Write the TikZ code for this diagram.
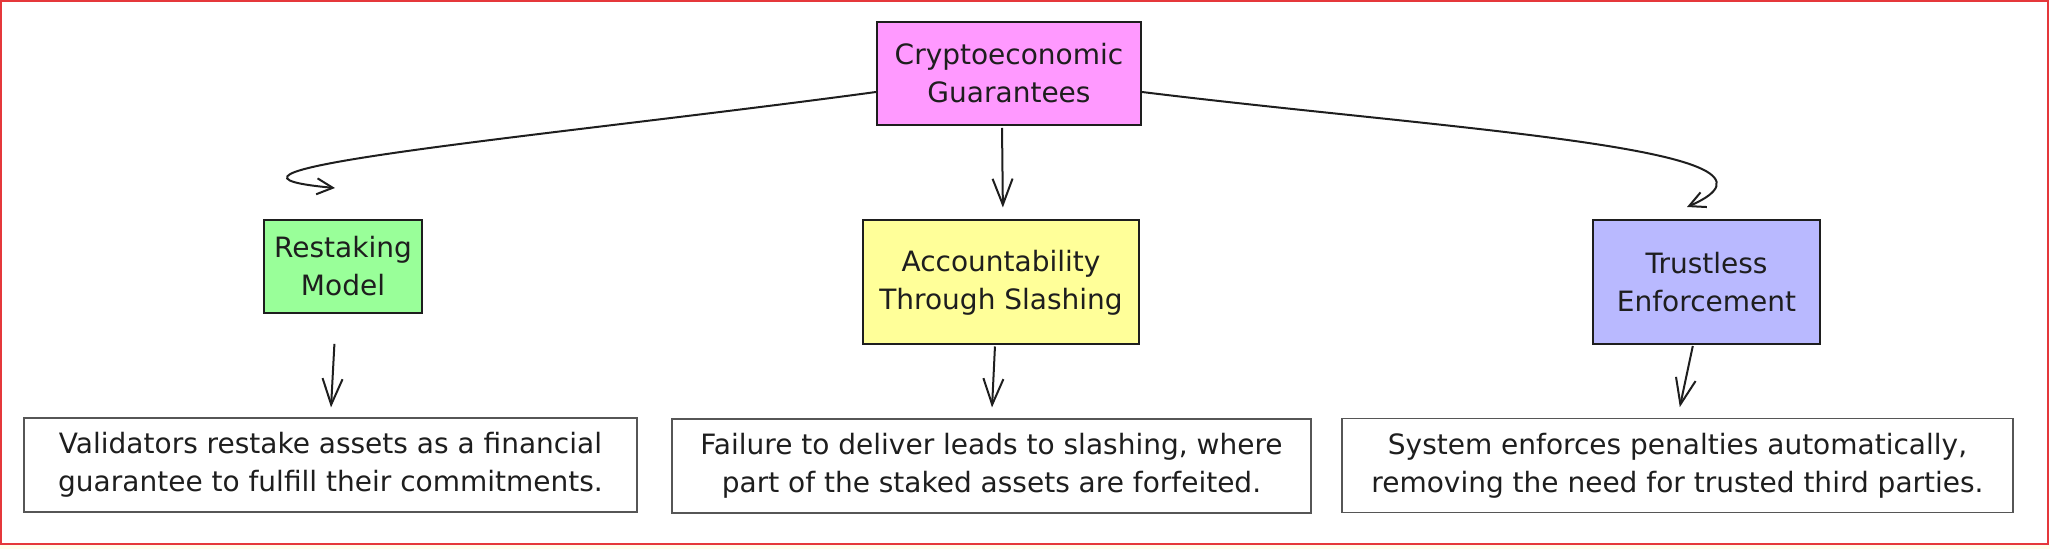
\documentclass[tikz,border=0pt]{standalone}
\usepackage{fontspec}
\setmainfont{DejaVu Sans}
\usetikzlibrary{arrows.meta,calc}
\definecolor{ink}{HTML}{1E1E1E}
\definecolor{pinkfill}{HTML}{FF99FF}
\definecolor{greenfill}{HTML}{99FF99}
\definecolor{yellowfill}{HTML}{FFFF99}
\definecolor{bluefill}{HTML}{B9B9FF}
\definecolor{frame}{HTML}{E5383B}
\begin{document}
\begin{tikzpicture}[x=0.5pt, y=-0.5pt,
        every node/.style={font=\fontsize{14}{19}\selectfont, text=ink, align=center, inner sep=0pt},
        topic/.style={draw=ink, line width=1pt},
        note/.style={draw=ink!75, line width=0.6pt, fill=white, minimum height=47pt},
        arr/.style={draw=ink, line width=1pt, -{Straight Barb[length=13pt, width=10pt]}},
        bend arr/.style={draw=ink, line width=1pt, -{Straight Barb[length=8pt, width=8pt]}}]
        \useasboundingbox (0,0) rectangle (2050,549);
        \fill[yellow!8] (0,545) rectangle (2050,549);
        \draw[frame, line width=1pt] (1,1) rectangle (2048,544);

        \node[topic, fill=pinkfill, minimum width=132pt, minimum height=51.5pt] (guar) at (1009,73.5) {Cryptoeconomic\\Guarantees};
        \node[topic, fill=greenfill, minimum width=79pt, minimum height=46.5pt] (restake) at (343,266.5) {Restaking\\Model};
        \node[topic, fill=yellowfill, minimum width=138pt, minimum height=62pt] (slash) at (1001,282.5) {Accountability\\Through Slashing};
        \node[topic, fill=bluefill, minimum width=113.5pt, minimum height=62pt] (trust) at (1706.5,282) {Trustless\\Enforcement};

        \node[note, minimum width=306.5pt] (restakenote) at (330.5,465) {Validators restake assets as a financial\\guarantee to fulfill their commitments.};
        \node[note, minimum width=319.5pt] (slashnote) at (991.5,466) {Failure to deliver leads to slashing, where\\part of the staked assets are forfeited.};
        \node[note, minimum width=335.5pt] (trustnote) at (1677.5,465.5) {System enforces penalties automatically,\\removing the need for trusted third parties.};

        \draw[bend arr] ([yshift=-9.25pt]guar.west) .. controls +(-317,43) and +(-185,-17) .. ([xshift=-4pt, yshift=15.5pt]restake.north);
        \draw[bend arr] ([yshift=-9.25pt]guar.east) .. controls +(309,38) and +(133,-58) .. ([xshift=-9.75pt, yshift=6pt]trust.north);
        \draw[arr, shorten <=1pt, shorten >=6pt] ([xshift=-3.5pt]guar.south) -- ([xshift=1pt]slash.north);

        \draw[arr, shorten <=15pt, shorten >=5pt] ([xshift=-3.5pt]restake.south) -- (restakenote.north);
        \draw[arr, shorten <=0.5pt, shorten >=5.5pt] ([xshift=-3pt]slash.south) -- (slashnote.north);
        \draw[arr, shorten <=0.5pt, shorten >=5.5pt] ([xshift=-6.75pt]trust.south) -- (trustnote.north);
\end{tikzpicture}
\end{document}
